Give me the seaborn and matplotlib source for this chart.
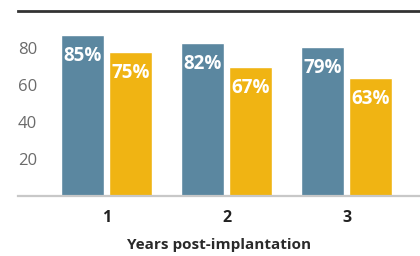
import pandas as pd
import matplotlib
matplotlib.use("Agg")
import matplotlib.pyplot as plt
import seaborn as sns

# values
years = ["1", "2", "3"]
series = ["A", "B"]
bar_heights_a = [87, 82.6, 80.5]
bar_heights_b = [77.8, 69.7, 63.8]
labels_a = ["85%", "82%", "79%"]
labels_b = ["75%", "67%", "63%"]
yticks = [20, 40, 60, 80]

blue = "#5b87a0"
yellow = "#f0b413"

df = pd.DataFrame({
    "year": years * 2,
    "series": [series[0]] * 3 + [series[1]] * 3,
    "value": bar_heights_a + bar_heights_b,
})

sns.set_style("white")
plt.rcParams["font.family"] = ["Open Sans", "DejaVu Sans"]

fig = plt.figure(figsize=(4.2, 2.56), dpi=100)
ax = fig.add_axes([18 / 420, 60 / 256, 402 / 420, 185.5 / 256])

sns.barplot(data=df, x="year", y="value", hue="series", order=years,
            palette=[blue, yellow], gap=0.1, saturation=1, legend=False, ax=ax)

# bar labels near the top of each bar
all_labels = [labels_a, labels_b]
for cont, labs in zip(ax.containers, all_labels):
    for bar, txt in zip(cont, labs):
        ax.text(bar.get_x() + bar.get_width() / 2, bar.get_height() - 11.5, txt,
                ha="center", va="center", color="white", fontsize=13.5,
                fontweight="bold")

ax.set_ylim(0, 100)
ax.set_xlim(-0.74, 2.61)
ax.set_yticks(yticks)
ax.set_yticklabels([str(t) for t in yticks], color="#6b6b6b", fontsize=12)
for lab in ax.get_yticklabels():
    lab.set_horizontalalignment("left")
ax.tick_params(axis="y", length=0, pad=0)
ax.tick_params(axis="x", length=0, pad=10, labelsize=11.5, labelcolor="#222222")
for lab in ax.get_xticklabels():
    lab.set_fontweight("bold")

ax.set_ylabel("")
ax.set_xlabel("Years post-implantation", fontsize=11, fontweight="bold",
              color="#2a2a2a", labelpad=9)

for s in ["left", "right"]:
    ax.spines[s].set_visible(False)
ax.spines["top"].set_color("#333333")
ax.spines["top"].set_linewidth(2)
ax.spines["bottom"].set_color("#c8c8c8")
ax.spines["bottom"].set_linewidth(1.6)

fig.savefig("out.png", dpi=100)
